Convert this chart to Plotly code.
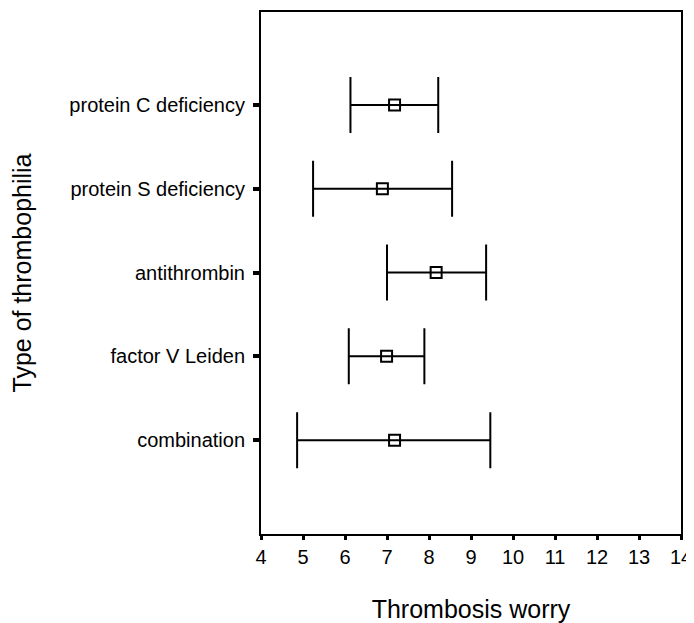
import plotly.graph_objects as go

categories = ["combination", "factor V Leiden", "antithrombin", "protein S deficiency", "protein C deficiency"]
means = [7.18, 6.99, 8.17, 6.89, 7.18]
lower = [4.86, 6.09, 7.00, 5.24, 6.13]
upper = [9.46, 7.89, 9.36, 8.55, 8.22]
x_ticks = list(range(4, 15))

err_plus = [u - m for u, m in zip(upper, means)]
err_minus = [m - l for m, l in zip(means, lower)]
ypos = list(range(len(categories)))

fig = go.Figure()
fig.add_trace(go.Scatter(
    x=means, y=ypos, mode="markers",
    marker=dict(symbol="square-open", size=11, color="black", line=dict(width=2, color="black")),
    error_x=dict(type="data", symmetric=False, array=err_plus, arrayminus=err_minus,
                 color="black", thickness=2, width=28),
    showlegend=False,
))

font_family = "Liberation Sans, Arial, sans-serif"
fig.update_layout(
    width=686, height=615,
    margin=dict(l=253, r=12, t=2, b=83),
    plot_bgcolor="white", paper_bgcolor="white",
    font=dict(family=font_family, color="black"),
    xaxis=dict(
        range=[4, 14], tickvals=x_ticks, ticktext=[str(v) for v in x_ticks],
        showgrid=False, zeroline=False, showline=True, linecolor="black", linewidth=2, mirror=True,
        ticks="outside", ticklen=4, tickwidth=3, tickcolor="black",
        tickfont=dict(size=20, family=font_family),
        title=dict(text="Thrombosis worry", font=dict(size=25, family=font_family), standoff=35),
    ),
    yaxis=dict(
        range=[-1.12, 5.11], tickvals=ypos, ticktext=categories,
        showgrid=False, zeroline=False, showline=True, linecolor="black", linewidth=2, mirror=True,
        ticks="outside", ticklen=6, tickwidth=4, tickcolor="black",
        tickfont=dict(size=20, family=font_family), ticklabelstandoff=4,
        title=dict(text="Type of thrombophilia", font=dict(size=25, family=font_family), standoff=31),
    ),
)

fig.write_html("out.html")
